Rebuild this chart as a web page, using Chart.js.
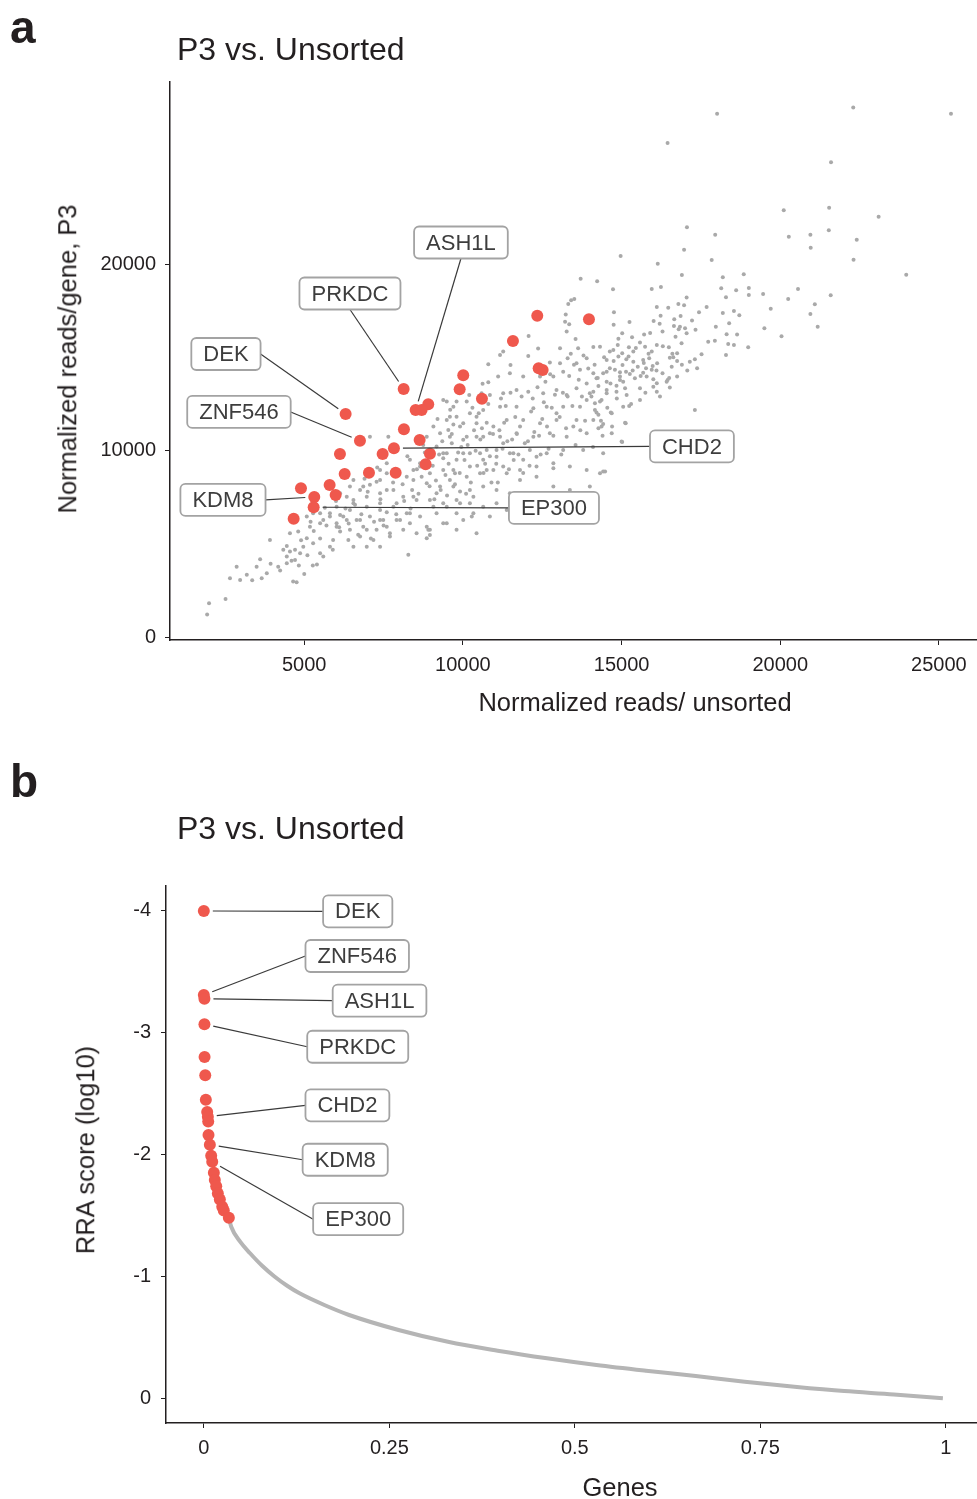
<!DOCTYPE html>
<html>
<head>
<meta charset="utf-8">
<script src="https://cdn.jsdelivr.net/npm/chart.js@4.4.1/dist/chart.umd.min.js"></script>
<style>
  body { margin: 0; background: #fff; }
  #page { position: relative; width: 977px; height: 1499px; overflow: hidden;
          font-family: "Liberation Sans", Arial, Helvetica, sans-serif; color: #231f20; }
  canvas { position: absolute; left: 0; }
  .txt { position: absolute; line-height: 1; white-space: nowrap; }
  .c { transform: translate(-50%, -50%); }
  .rot { transform: translate(-50%, -50%) rotate(-90deg); }
</style>
</head>
<body>
<div id="page">
  <!-- canvases are a little wider than the page; the figure is cropped at the right edge -->
  <canvas id="chartA" width="983" height="720" style="top:0"></canvas>
  <canvas id="chartB" width="983" height="769" style="top:730px"></canvas>

  <div class="txt" style="left:10px; top:4px; font-size:46px; font-weight:bold">a</div>
  <div class="txt" style="left:177px; top:33px; font-size:32px">P3 vs. Unsorted</div>
  <div class="txt rot" style="left:68px; top:359px; font-size:25.5px">Normalized reads/gene, P3</div>
  <div class="txt c" style="left:635px; top:703px; font-size:25.5px">Normalized reads/ unsorted</div>

  <div class="txt" style="left:10px; top:758px; font-size:46px; font-weight:bold">b</div>
  <div class="txt" style="left:177px; top:812px; font-size:32px">P3 vs. Unsorted</div>
  <div class="txt rot" style="left:86px; top:1150px; font-size:25.5px">RRA score (log10)</div>
  <div class="txt c" style="left:620px; top:1488px; font-size:25.5px">Genes</div>
</div>

<script>
// ---- panel a: normalized reads, P3 vs unsorted ----
const xTicksA = [5000, 10000, 15000, 20000, 25000];
const yTicksA = [0, 10000, 20000];

// highlighted genes (red)
const redPoints = [
  [12343, 17232], [13972, 17039], [11577, 15877], [12387, 14415], [12513, 14324],
  [10011, 14040], [9898, 13291], [8133, 13307], [10600, 12787], [8908, 12487],
  [8511, 12182], [8700, 12182], [6305, 11968], [8142, 11149], [6756, 10538],
  [8637, 10576], [7827, 10131], [6126, 9826], [7471, 9826], [8962, 9842],
  [8826, 9275], [6274, 8755], [7040, 8825], [7881, 8825], [4897, 7989],
  [5801, 8166], [5990, 7631], [5316, 7523], [5297, 6972], [4667, 6361]
];

// all other genes (gray)
const grayPoints = [
  [18010, 28050], [22300, 28390], [25380, 28050], [16450, 26480], [21600, 25450], [20110, 22880], [21540, 23020], [23100, 22530],
  [17060, 21970], [17950, 21570], [20270, 21460], [20950, 21570], [20960, 20870], [21530, 21810], [22410, 21300], [14970, 20430],
  [16970, 20770], [16140, 20020], [17840, 20220], [22310, 20230], [16900, 19410], [18190, 19290], [18850, 19450], [23970, 19430],
  [14730, 18650], [15950, 18660], [16240, 18770], [18140, 18700], [18610, 18590], [19010, 18720], [20560, 18660], [17050, 18200],
  [18290, 18220], [19010, 18340], [19460, 18390], [20250, 18130], [21590, 18330], [14760, 17410], [16110, 17700], [16470, 17660],
  [16790, 17860], [16970, 17790], [17680, 17700], [17440, 17410], [18540, 17480], [18710, 17250], [19700, 17610], [20950, 17320],
  [21090, 17840], [16230, 17230], [16860, 17220], [15250, 16900], [16010, 16950], [16660, 17040], [17220, 16970], [18190, 17380],
  [18390, 16830], [14750, 16750], [16650, 16680], [16800, 16500], [17000, 16560], [17330, 16480], [16290, 16380], [19500, 16560],
  [21180, 16640], [15020, 16290], [15330, 16080], [15710, 16220], [18310, 16240], [18640, 16220], [20040, 16130],
  [17050, 16290], [15580, 15790], [15740, 15570], [14320, 15570], [14880, 15660], [15230, 15540], [16110, 15660], [16490, 15540],
  [16890, 15750], [17730, 15840], [17940, 15890], [18360, 15720], [18540, 15660], [18990, 15540], [18290, 15130], [17520, 15170],
  [16750, 15220], [16520, 14980], [15950, 15310], [15370, 15310], [14630, 15310], [15020, 15220], [15870, 14950], [16750, 14810],
  [17150, 14770], [15370, 14770], [14630, 14420], [15030, 14590], [15510, 14500], [15770, 14420], [15980, 14540], [16120, 14680],
  [16580, 14500], [17380, 14420], [17070, 14290], [16750, 13970], [16290, 14150], [15950, 14330], [15680, 14180], [15140, 14230],
  [14420, 14150], [14210, 13880], [14790, 14330], [14530, 13700], [14950, 13790], [15420, 13880], [16000, 13830], [16420, 13700],
  [14840, 13480], [15110, 13350], [15580, 13350], [16000, 13430], [16520, 13380], [14270, 13470], [14530, 13250], [14840, 13160],
  [15160, 12990], [15580, 12720], [16110, 13160], [16210, 12900], [14110, 13160], [14370, 12720], [14160, 12540], [15240, 12400],
  [14660, 12040], [14160, 12180], [14270, 11920], [17310, 12180], [14110, 11650], [15130, 11470], [14370, 11290], [14270, 11200],
  [15020, 10470], [14480, 8880],
  [13710, 19210], [14230, 19080], [13410, 18060], [13510, 18130], [13240, 17290], [13350, 16770], [16840, 16640], [17970, 16640],
  [12070, 16150], [13550, 15990], [13060, 15490], [12370, 15470], [13630, 15490], [14110, 15560], [14740, 15400], [11170, 15130],
  [11270, 15310], [10800, 14630], [11500, 14590], [12060, 15070], [12740, 14720], [13060, 14680], [13300, 14950], [13580, 14680],
  [13900, 14950], [14530, 14860], [14900, 15040], [15220, 15040], [15680, 14860], [16630, 15010], [17310, 14900], [10620, 13580],
  [11110, 13970], [11480, 14150], [11900, 13970], [12430, 13970], [12850, 13970], [13160, 14230], [13690, 14330], [14110, 14150],
  [14530, 14230], [14950, 13970], [15260, 14110], [15790, 13970], [16110, 13610], [16450, 13790], [9490, 12630], [9700, 12360],
  [10120, 12630], [10590, 13080], [10850, 12990], [11270, 13080], [11690, 13250], [12060, 13160], [12530, 13080], [12950, 13250],
  [13270, 12990], [13580, 13350], [14000, 13080], [14530, 13080], [13900, 12720], [14320, 12630], [15050, 12360], [14210, 12040],
  [14690, 12010], [15110, 11500], [15000, 10490], [14690, 10940], [14420, 11430], [13580, 11650], [13690, 12360], [13160, 12360],
  [12640, 12360], [12220, 12270], [11690, 12360], [11170, 12360], [10640, 12180], [10220, 12010], [9800, 11820], [9490, 11650],
  [9910, 11290], [10430, 11470], [10960, 11290], [11380, 11650], [11900, 11650], [12430, 11470], [12950, 11650], [13480, 11290],
  [13900, 10940], [13270, 10750], [12740, 10940], [12220, 10750], [11690, 10940], [11170, 10750], [10640, 10750], [10120, 10750],
  [9590, 10750], [9490, 9860], [10010, 9860], [10540, 9860], [11060, 10040], [11590, 9860], [12110, 10040], [12640, 9860],
  [13160, 10040], [13790, 10040], [14420, 8880], [12850, 9060], [12320, 9150], [11800, 8970], [11270, 9150], [10750, 8970],
  [10220, 9150], [9700, 8970],
  [13320, 17860], [13220, 16910], [13270, 16380], [10800, 13670], [10200, 12990], [9380, 12720], [9800, 12630], [9590, 11820],
  [9070, 11290], [9280, 10940], [9540, 11110], [10010, 11470], [10430, 11820], [8860, 10750], [9170, 10220], [9380, 9860],
  [9650, 10400], [10010, 10580], [10430, 10750], [10850, 10940], [11270, 10400], [10750, 10040], [10220, 9860], [9800, 9510],
  [10640, 9510], [11060, 9680], [11480, 9860], [11900, 9510], [12320, 9680], [12850, 9330], [13370, 9150], [13900, 8970],
  [14320, 8790], [14420, 9860], [8330, 9510], [8650, 9150], [8960, 8790], [9380, 8970], [9750, 8790], [10120, 8610],
  [10540, 8790], [10960, 8970], [11380, 8790], [11800, 8430], [12320, 8610], [12850, 8080], [13370, 7900], [14000, 8080],
  [8440, 8430], [8860, 8260], [9280, 8080], [9700, 8080], [10220, 7900], [10640, 8080], [11060, 7900], [11480, 7720],
  [12010, 7540], [12530, 7360], [7600, 8790], [7390, 8430], [7070, 8170], [6760, 7900], [6440, 8080], [6130, 7720],
  [6550, 7360], [6970, 7540], [7390, 7720], [7810, 7900], [8120, 7540], [8540, 7360], [8960, 7360], [9380, 7190],
  [9800, 7360], [10220, 7190], [10640, 7000], [11060, 7190], [9800, 6650], [10330, 6650], [10850, 6470], [11380, 6830],
  [11800, 7000], [6020, 7000], [6440, 6830], [6970, 7000], [7390, 6830], [7810, 7000], [8230, 6650], [8650, 6470],
  [9170, 6650], [9380, 6120], [8860, 5930], [8330, 6120], [7910, 6290], [7490, 6290], [7070, 6470], [6650, 6290],
  [6230, 6470], [5810, 6650], [5600, 6290], [6020, 5930], [6440, 5760], [6860, 5930], [7280, 5760], [7700, 5580],
  [8120, 5760], [8540, 5580], [8960, 5760], [9800, 5760], [10430, 5580], [8860, 5310],
  [1940, 1220], [2000, 1830], [2520, 2060], [2660, 3170], [2980, 3080], [2870, 3790], [3190, 3350], [3360, 3060],
  [3500, 3790], [3660, 3170], [3610, 4190], [3820, 3440], [3940, 3940], [4180, 3790], [4240, 3580], [3920, 5220],
  [4450, 3970], [4650, 2990], [4760, 2960], [4830, 3850], [5270, 3850], [4340, 4690], [4450, 4900], [4550, 4600],
  [4710, 4690], [4870, 4510], [4450, 4330], [4710, 4150], [4970, 4860], [5080, 5310], [4810, 5670], [4550, 5580],
  [5180, 5930], [5500, 6120], [5280, 5040], [5500, 4510], [5600, 4330], [5810, 4860], [5910, 5220], [6130, 5670],
  [6020, 6120], [6390, 5220], [6550, 4860], [6760, 5400], [6970, 5760], [6970, 4860], [7390, 4860], [7180, 5220],
  [7700, 5400], [8280, 4420], [8910, 5760], [8960, 5490], [8020, 6290], [7600, 5930], [7390, 6290], [5500, 6650],
  [5650, 6950], [5810, 6470], [6130, 6560], [6340, 6290], [6760, 6290], [6550, 7190], [7390, 7190], [5080, 6470],
  [5280, 6650], [6340, 7540], [6860, 8080], [7280, 8340], [7600, 7900], [8230, 8610], [8440, 8970], [8650, 9330],
  [9380, 9600], [9590, 8430], [9910, 7810], [9170, 7720], [8440, 7540], [7910, 7190], [8330, 6650], [9070, 7000],
  [9490, 7000], [9910, 7190], [10330, 7540], [10280, 6470], [10010, 6290], [9490, 6120], [7600, 9330], [7390, 8970],
  [6550, 8430], [7070, 10750], [7650, 10750],
  // denser core of the cloud
  [8100, 8200], [8250, 9700], [8400, 7900], [8550, 9000], [8700, 8600], [8800, 9900], [8950, 8100], [8150, 7300],
  [8350, 6900], [8600, 7700], [8900, 9450], [8750, 10300], [9050, 9200], [9150, 8400], [9250, 9800], [9350, 10500],
  [9450, 8700], [9550, 9300], [9650, 10900], [9750, 8200], [9850, 9900], [9950, 10200], [9100, 7400], [9300, 7900],
  [9500, 7600], [9700, 11400], [9900, 8800], [9200, 11700], [9600, 12200], [10050, 9500], [10150, 10300], [10250, 8300],
  [10350, 11100], [10450, 9200], [10550, 10600], [10650, 8800], [10750, 11500], [10850, 9700], [10950, 10900], [10100, 7700],
  [10300, 12300], [10500, 12000], [10700, 9300], [10900, 8300], [10400, 10000], [10600, 11200], [10800, 12500], [11050, 9300],
  [11150, 11100], [11250, 10100], [11350, 12400], [11450, 9000], [11550, 10600], [11650, 11800], [11750, 9800], [11850, 12900],
  [11950, 10400], [11100, 8300], [11300, 11500], [11500, 13100], [11700, 10900], [11900, 8800], [11200, 12800], [11400, 10500],
  [11600, 9500], [11800, 11300], [12050, 10500], [12150, 12100], [12250, 11000], [12350, 13400], [12450, 9800], [12550, 12600],
  [12650, 11300], [12750, 14100], [12850, 10800], [12950, 12000], [12100, 9200], [12300, 14300], [12500, 11700], [12700, 10100],
  [12900, 13000], [12200, 12800], [12400, 10800], [12600, 13700], [12800, 12300], [13050, 11800], [13150, 13100], [13250, 11200],
  [13350, 14000], [13450, 12400], [13550, 10300], [13650, 13800], [13750, 12900], [13850, 11600], [13950, 14400], [13100, 9800],
  [13300, 12900], [13500, 14600], [13700, 11100], [13900, 13600], [13400, 15200], [13800, 15100], [14050, 12900], [14150, 14600],
  [14250, 13900], [14350, 11600], [14450, 15000], [14550, 12300], [14650, 13600], [14750, 14800], [14850, 12800], [14950, 14200],
  [14100, 10200], [14400, 10800], [14700, 11300], [14900, 16000], [15050, 13700], [15150, 14900], [15300, 12500], [15450, 15500],
  [15600, 14000], [15750, 13100], [15900, 16300], [15350, 14300], [15700, 14700], [15850, 15200], [16100, 14300], [16300, 15600],
  [16500, 13900], [16700, 16100], [16900, 14600], [16200, 16800], [16600, 15200], [6600, 7100], [6800, 6600], [7000, 7800],
  [7200, 6200], [7400, 7400], [7600, 6700], [7800, 8300], [6700, 5500], [7100, 5300], [7500, 6000], [7900, 6600],
  [6900, 8500], [7300, 9100], [4900, 5200], [5100, 4400], [5300, 5700], [5500, 5300], [5700, 6000], [5900, 4700],
  [6100, 5900], [6300, 6900], [5400, 3900], [5000, 3400], [4600, 4100], [5200, 6200], [6000, 7300], [6400, 6100]
];

// gene labels for panel a: label box centre and the point it refers to
const genesA  = ['DEK', 'ZNF546', 'KDM8', 'PRKDC', 'ASH1L', 'CHD2', 'EP300'];
const boxXA   = [2533, 2943, 2439, 6441, 9938, 17217, 12869];
const boxYA   = [15181, 12076, 7363, 18421, 21152, 10228, 6935];
const pointXA = [6305, 6756, 5316, 8133, 8511, 7827, 5297];
const pointYA = [11968, 10538, 7523, 13307, 12182, 10131, 6972];

// ---- panel b: RRA score by gene rank ----
const xTicksB = [0, 0.25, 0.5, 0.75, 1];
const yTicksB = [-4, -3, -2, -1, 0];

const rankHits = [
  [0.000, -4.00], [0.000, -3.31], [0.0008, -3.28], [0.0008, -3.07], [0.0010, -2.80],
  [0.0019, -2.65], [0.0027, -2.45], [0.0045, -2.35], [0.0054, -2.31], [0.0059, -2.27],
  [0.0063, -2.16], [0.0081, -2.08], [0.0099, -1.99], [0.0113, -1.94], [0.0135, -1.85],
  [0.0148, -1.79], [0.0167, -1.74], [0.0189, -1.68], [0.0216, -1.63], [0.0248, -1.57],
  [0.0269, -1.54], [0.0337, -1.48]
];

const rankCurve = [
  [0.0337, -1.48], [0.0369, -1.407], [0.0489, -1.284], [0.0623, -1.189], [0.0789, -1.084],
  [0.0956, -0.996], [0.1123, -0.922], [0.129, -0.86], [0.1624, -0.764], [0.1958, -0.682],
  [0.2624, -0.559], [0.329, -0.462], [0.396, -0.389], [0.4626, -0.326], [0.529, -0.271],
  [0.596, -0.224], [0.663, -0.181], [0.729, -0.134], [0.796, -0.093], [0.863, -0.057],
  [0.93, -0.03], [0.996, 0.002]
];

const genesB  = ['DEK', 'ZNF546', 'ASH1L', 'PRKDC', 'CHD2', 'KDM8', 'EP300'];
const boxXB   = [0.2074, 0.2067, 0.2368, 0.2074, 0.1935, 0.1905, 0.2080];
const boxYB   = [-3.997, -3.630, -3.263, -2.885, -2.404, -1.957, -1.469];
const pointXB = [0.000, 0.000, 0.0008, 0.0008, 0.0054, 0.0081, 0.0113];
const pointYB = [-4.00, -3.31, -3.28, -3.07, -2.31, -2.08, -1.94];

const FONT = '"Liberation Sans", Arial, Helvetica, sans-serif';
const INK = '#231f20';
const RED = '#ef584d';
Chart.defaults.font.family = FONT;
Chart.defaults.color = INK;

const toXY = arr => arr.map(p => ({ x: p[0], y: p[1] }));

// ggrepel-style boxed labels with leader segments
const labelPlugin = {
  id: 'geneLabels',
  afterDatasetsDraw(chart, args, opts) {
    const ctx = chart.ctx;
    const xs = chart.scales.x, ys = chart.scales.y;
    ctx.save();
    ctx.font = '22px ' + FONT;
    opts.names.forEach((name, i) => {
      const cx = xs.getPixelForValue(opts.boxX[i]);
      const cy = ys.getPixelForValue(opts.boxY[i]);
      const px = xs.getPixelForValue(opts.pointX[i]);
      const py = ys.getPixelForValue(opts.pointY[i]);
      const w = ctx.measureText(name).width + 24, h = 32;

      // attach the segment to the middle of the nearest side
      let ax = cx, ay = cy;
      const dx = Math.abs(px - cx) - w / 2, dy = Math.abs(py - cy) - h / 2;
      if (dy > dx) ay = py > cy ? cy + h / 2 : cy - h / 2;
      else ax = px > cx ? cx + w / 2 : cx - w / 2;
      const d = Math.hypot(ax - px, ay - py), k = 9 / d;
      ctx.strokeStyle = '#3a3a3a';
      ctx.lineWidth = 1.2;
      ctx.beginPath();
      ctx.moveTo(ax, ay);
      ctx.lineTo(px + (ax - px) * k, py + (ay - py) * k);
      ctx.stroke();

      ctx.beginPath();
      ctx.roundRect(cx - w / 2, cy - h / 2, w, h, 5);
      ctx.fillStyle = '#fff';
      ctx.fill();
      ctx.strokeStyle = '#a3a3a3';
      ctx.lineWidth = 1.8;
      ctx.stroke();
      ctx.fillStyle = '#3d3d3d';
      ctx.textAlign = 'center';
      ctx.textBaseline = 'middle';
      ctx.fillText(name, cx, cy + 1);
    });
    ctx.restore();
  }
};

function axis(opts) {
  return Object.assign({
    type: 'linear',
    grid: { drawOnChartArea: false, drawTicks: true, tickLength: 5, color: INK, lineWidth: 1 },
    border: { display: true, color: INK, width: 1.5 },
  }, opts);
}

new Chart(document.getElementById('chartA'), {
  type: 'scatter',
  data: {
    datasets: [
      { data: toXY(redPoints), pointRadius: 6, backgroundColor: RED, borderWidth: 0 },
      { data: toXY(grayPoints), pointRadius: 2, backgroundColor: '#a9a9a9', borderWidth: 0 }
    ]
  },
  options: {
    responsive: false,
    animation: false,
    devicePixelRatio: 1,
    layout: { padding: { top: 82, left: 0, right: 0, bottom: 0 } },
    plugins: {
      legend: { display: false },
      tooltip: { enabled: false },
      geneLabels: { names: genesA, boxX: boxXA, boxY: boxYA, pointX: pointXA, pointY: pointYA }
    },
    scales: {
      x: axis({
        min: 770, max: 26200,
        afterBuildTicks: s => { s.ticks = xTicksA.map(v => ({ value: v })); },
        afterFit: s => { s.height = 80; },
        ticks: { font: { size: 20 }, padding: 8, color: INK, callback: v => String(v) }
      }),
      y: axis({
        min: -140, max: 29750,
        afterBuildTicks: s => { s.ticks = yTicksA.map(v => ({ value: v })); },
        afterFit: s => { s.width = 170; },
        ticks: { font: { size: 20 }, padding: 9, color: INK, callback: v => String(v) }
      })
    }
  },
  plugins: [labelPlugin]
});

new Chart(document.getElementById('chartB'), {
  type: 'scatter',
  data: {
    datasets: [
      { data: toXY(rankHits), pointRadius: 6, backgroundColor: RED, borderWidth: 0 },
      { data: toXY(rankCurve), showLine: true, pointRadius: 0, borderColor: '#b5b5b5',
        borderWidth: 4, cubicInterpolationMode: 'monotone' }
    ]
  },
  options: {
    responsive: false,
    animation: false,
    devicePixelRatio: 1,
    layout: { padding: { top: 156, left: 0, right: 0, bottom: 0 } },
    plugins: {
      legend: { display: false },
      tooltip: { enabled: false },
      geneLabels: { names: genesB, boxX: boxXB, boxY: boxYB, pointX: pointXB, pointY: pointYB }
    },
    scales: {
      x: axis({
        min: -0.051, max: 1.042,
        afterBuildTicks: s => { s.ticks = xTicksB.map(v => ({ value: v })); },
        afterFit: s => { s.height = 76; },
        ticks: { font: { size: 20 }, padding: 8, color: INK, callback: v => String(v) }
      }),
      y: axis({
        min: -4.205, max: 0.205, reverse: true,
        afterBuildTicks: s => { s.ticks = yTicksB.map(v => ({ value: v })); },
        afterFit: s => { s.width = 166; },
        ticks: { font: { size: 20 }, padding: 10, color: INK, callback: v => String(v) }
      })
    }
  },
  plugins: [labelPlugin]
});
</script>
</body>
</html>
